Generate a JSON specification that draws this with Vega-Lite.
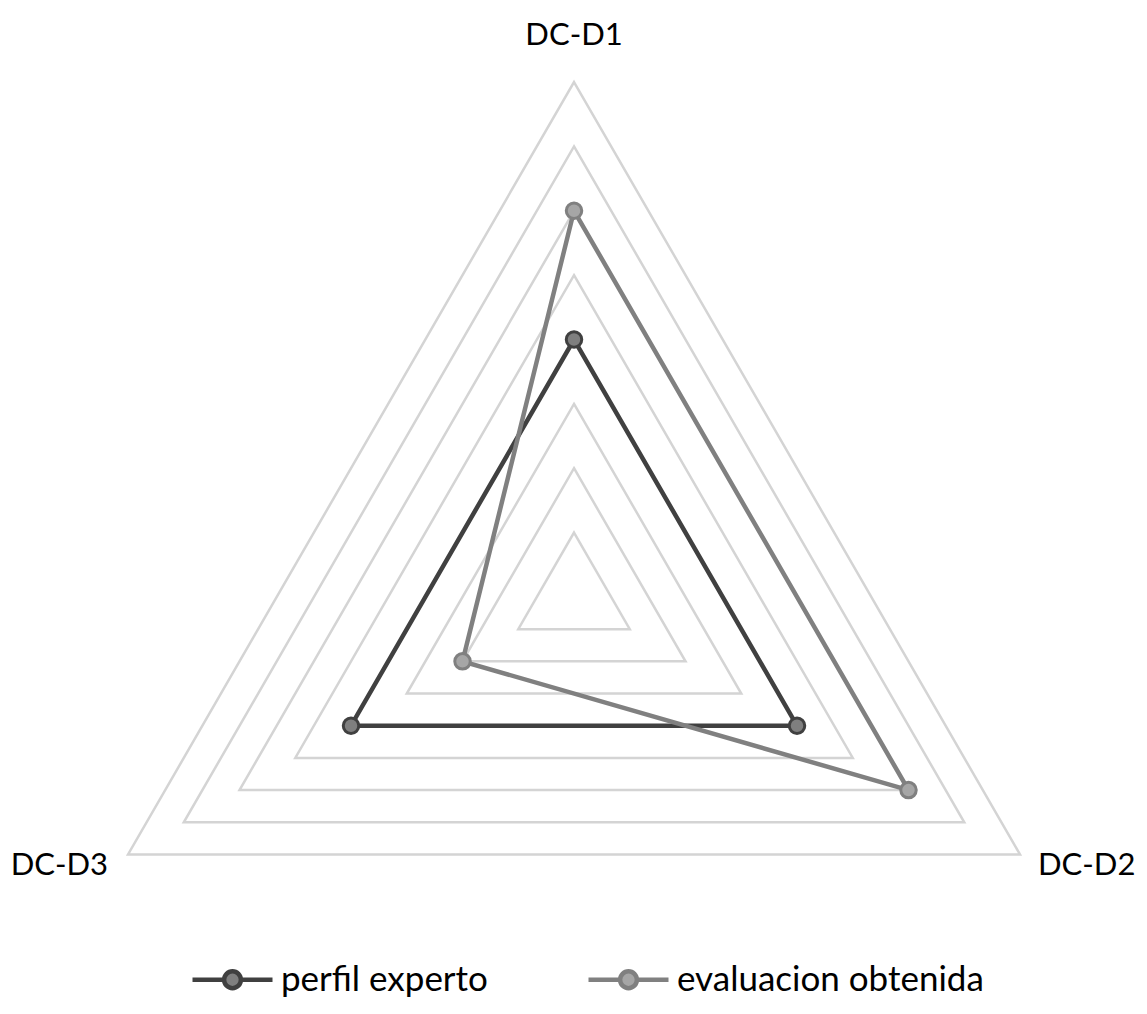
{
  "$schema": "https://vega.github.io/schema/vega-lite/v6.json",
  "width": 1147,
  "height": 1014,
  "autosize": {"type": "none"},
  "padding": 0,
  "background": "white",
  "config": {"view": {"stroke": null}, "font": "Lato"},
  "datasets": {
    "grid": [
      {"nivel": 1, "eje": ["DC-D1", "DC-D2", "DC-D3"]},
      {"nivel": 2, "eje": ["DC-D1", "DC-D2", "DC-D3"]},
      {"nivel": 3, "eje": ["DC-D1", "DC-D2", "DC-D3"]},
      {"nivel": 4, "eje": ["DC-D1", "DC-D2", "DC-D3"]},
      {"nivel": 5, "eje": ["DC-D1", "DC-D2", "DC-D3"]},
      {"nivel": 6, "eje": ["DC-D1", "DC-D2", "DC-D3"]},
      {"nivel": 7, "eje": ["DC-D1", "DC-D2", "DC-D3"]},
      {"nivel": 8, "eje": ["DC-D1", "DC-D2", "DC-D3"]}
    ],
    "series": [
      {"serie": "perfil experto", "eje": "DC-D1", "valor": 4},
      {"serie": "perfil experto", "eje": "DC-D2", "valor": 4},
      {"serie": "perfil experto", "eje": "DC-D3", "valor": 4},
      {"serie": "evaluacion obtenida", "eje": "DC-D1", "valor": 6},
      {"serie": "evaluacion obtenida", "eje": "DC-D2", "valor": 6},
      {"serie": "evaluacion obtenida", "eje": "DC-D3", "valor": 2}
    ],
    "ejes": [
      {"eje": "DC-D1", "valor": 8},
      {"eje": "DC-D2", "valor": 8},
      {"eje": "DC-D3", "valor": 8}
    ]
  },
  "layer": [
    {
      "data": {"name": "grid"},
      "transform": [
        {"flatten": ["eje"]},
        {"calculate": "indexof(['DC-D1','DC-D2','DC-D3'], datum.eje)", "as": "k"},
        {"calculate": "datum.nivel*sin(2*PI*datum.k/3)", "as": "px"},
        {"calculate": "datum.nivel*cos(2*PI*datum.k/3)", "as": "py"}
      ],
      "mark": {"type": "line", "interpolate": "linear-closed", "color": "#d4d4d4", "strokeWidth": 2.5},
      "encoding": {
        "x": {"field": "px", "type": "quantitative", "scale": {"domain": [-8.917, 8.901], "nice": false, "zero": false}, "axis": null},
        "y": {"field": "py", "type": "quantitative", "scale": {"domain": [-6.478, 9.274], "nice": false, "zero": false}, "axis": null},
        "detail": {"field": "nivel", "type": "nominal"},
        "order": {"field": "k", "type": "quantitative"}
      }
    },
    {
      "data": {"name": "series"},
      "transform": [
        {"filter": "datum.serie == 'perfil experto'"},
        {"calculate": "indexof(['DC-D1','DC-D2','DC-D3'], datum.eje)", "as": "k"},
        {"calculate": "datum.valor*sin(2*PI*datum.k/3)", "as": "px"},
        {"calculate": "datum.valor*cos(2*PI*datum.k/3)", "as": "py"}
      ],
      "mark": {"type": "line", "interpolate": "linear-closed", "strokeWidth": 4.5},
      "encoding": {
        "x": {"field": "px", "type": "quantitative"},
        "y": {"field": "py", "type": "quantitative"},
        "stroke": {"field": "serie", "type": "nominal", "scale": {"domain": ["perfil experto", "evaluacion obtenida"], "range": ["#404040", "#808080"]}},
        "order": {"field": "k", "type": "quantitative"}
      }
    },
    {
      "data": {"name": "series"},
      "transform": [
        {"filter": "datum.serie == 'evaluacion obtenida'"},
        {"calculate": "indexof(['DC-D1','DC-D2','DC-D3'], datum.eje)", "as": "k"},
        {"calculate": "datum.valor*sin(2*PI*datum.k/3)", "as": "px"},
        {"calculate": "datum.valor*cos(2*PI*datum.k/3)", "as": "py"}
      ],
      "mark": {"type": "line", "interpolate": "linear-closed", "strokeWidth": 4.5},
      "encoding": {
        "x": {"field": "px", "type": "quantitative"},
        "y": {"field": "py", "type": "quantitative"},
        "stroke": {"field": "serie", "type": "nominal"},
        "order": {"field": "k", "type": "quantitative"}
      }
    },
    {
      "data": {"name": "series"},
      "transform": [
        {"calculate": "indexof(['DC-D1','DC-D2','DC-D3'], datum.eje)", "as": "k"},
        {"calculate": "datum.valor*sin(2*PI*datum.k/3)", "as": "px"},
        {"calculate": "datum.valor*cos(2*PI*datum.k/3)", "as": "py"}
      ],
      "mark": {"type": "point", "filled": true, "opacity": 1, "size": 240, "strokeWidth": 3},
      "encoding": {
        "x": {"field": "px", "type": "quantitative"},
        "y": {"field": "py", "type": "quantitative"},
        "fill": {
          "field": "serie", "type": "nominal",
          "scale": {"domain": ["perfil experto", "evaluacion obtenida"], "range": ["#7f7f7f", "#a6a6a6"]},
          "legend": {
            "orient": "none", "legendX": 190, "legendY": 937, "direction": "horizontal", "title": null,
            "symbolType": "M-1,0L-0.21,0M0.21,0L1,0M-0.21,0A0.21,0.21,0,1,1,0.21,0A0.21,0.21,0,1,1,-0.21,0Z",
            "symbolSize": 6400, "symbolStrokeWidth": 4.5, "symbolOpacity": 1, "labelFontSize": 35, "labelFont": "Lato",
            "labelColor": "#000000", "labelOffset": 6, "columnPadding": 91, "labelLimit": 0
          }
        },
        "stroke": {
          "field": "serie", "type": "nominal",
          "legend": {
            "orient": "none", "legendX": 190, "legendY": 937, "direction": "horizontal", "title": null,
            "symbolType": "M-1,0L-0.21,0M0.21,0L1,0M-0.21,0A0.21,0.21,0,1,1,0.21,0A0.21,0.21,0,1,1,-0.21,0Z",
            "symbolSize": 6400, "symbolStrokeWidth": 4.5, "symbolOpacity": 1, "labelFontSize": 35, "labelFont": "Lato",
            "labelColor": "#000000", "labelOffset": 6, "columnPadding": 91, "labelLimit": 0
          }
        }
      }
    },
    {
      "data": {"name": "ejes"},
      "transform": [
        {"filter": "datum.eje == 'DC-D1'"},
        {"calculate": "indexof(['DC-D1','DC-D2','DC-D3'], datum.eje)", "as": "k"},
        {"calculate": "datum.valor*sin(2*PI*datum.k/3)", "as": "px"},
        {"calculate": "datum.valor*cos(2*PI*datum.k/3)", "as": "py"}
      ],
      "mark": {"type": "text", "align": "center", "baseline": "alphabetic", "dy": -37, "fontSize": 31, "font": "Lato", "color": "#000000"},
      "encoding": {
        "x": {"field": "px", "type": "quantitative"},
        "y": {"field": "py", "type": "quantitative"},
        "text": {"field": "eje"}
      }
    },
    {
      "data": {"name": "ejes"},
      "transform": [
        {"filter": "datum.eje == 'DC-D2'"},
        {"calculate": "indexof(['DC-D1','DC-D2','DC-D3'], datum.eje)", "as": "k"},
        {"calculate": "datum.valor*sin(2*PI*datum.k/3)", "as": "px"},
        {"calculate": "datum.valor*cos(2*PI*datum.k/3)", "as": "py"}
      ],
      "mark": {"type": "text", "align": "left", "baseline": "alphabetic", "dx": 18, "dy": 21, "fontSize": 31, "font": "Lato", "color": "#000000"},
      "encoding": {
        "x": {"field": "px", "type": "quantitative"},
        "y": {"field": "py", "type": "quantitative"},
        "text": {"field": "eje"}
      }
    },
    {
      "data": {"name": "ejes"},
      "transform": [
        {"filter": "datum.eje == 'DC-D3'"},
        {"calculate": "indexof(['DC-D1','DC-D2','DC-D3'], datum.eje)", "as": "k"},
        {"calculate": "datum.valor*sin(2*PI*datum.k/3)", "as": "px"},
        {"calculate": "datum.valor*cos(2*PI*datum.k/3)", "as": "py"}
      ],
      "mark": {"type": "text", "align": "right", "baseline": "alphabetic", "dx": -20, "dy": 21, "fontSize": 31, "font": "Lato", "color": "#000000"},
      "encoding": {
        "x": {"field": "px", "type": "quantitative"},
        "y": {"field": "py", "type": "quantitative"},
        "text": {"field": "eje"}
      }
    }
  ]
}
